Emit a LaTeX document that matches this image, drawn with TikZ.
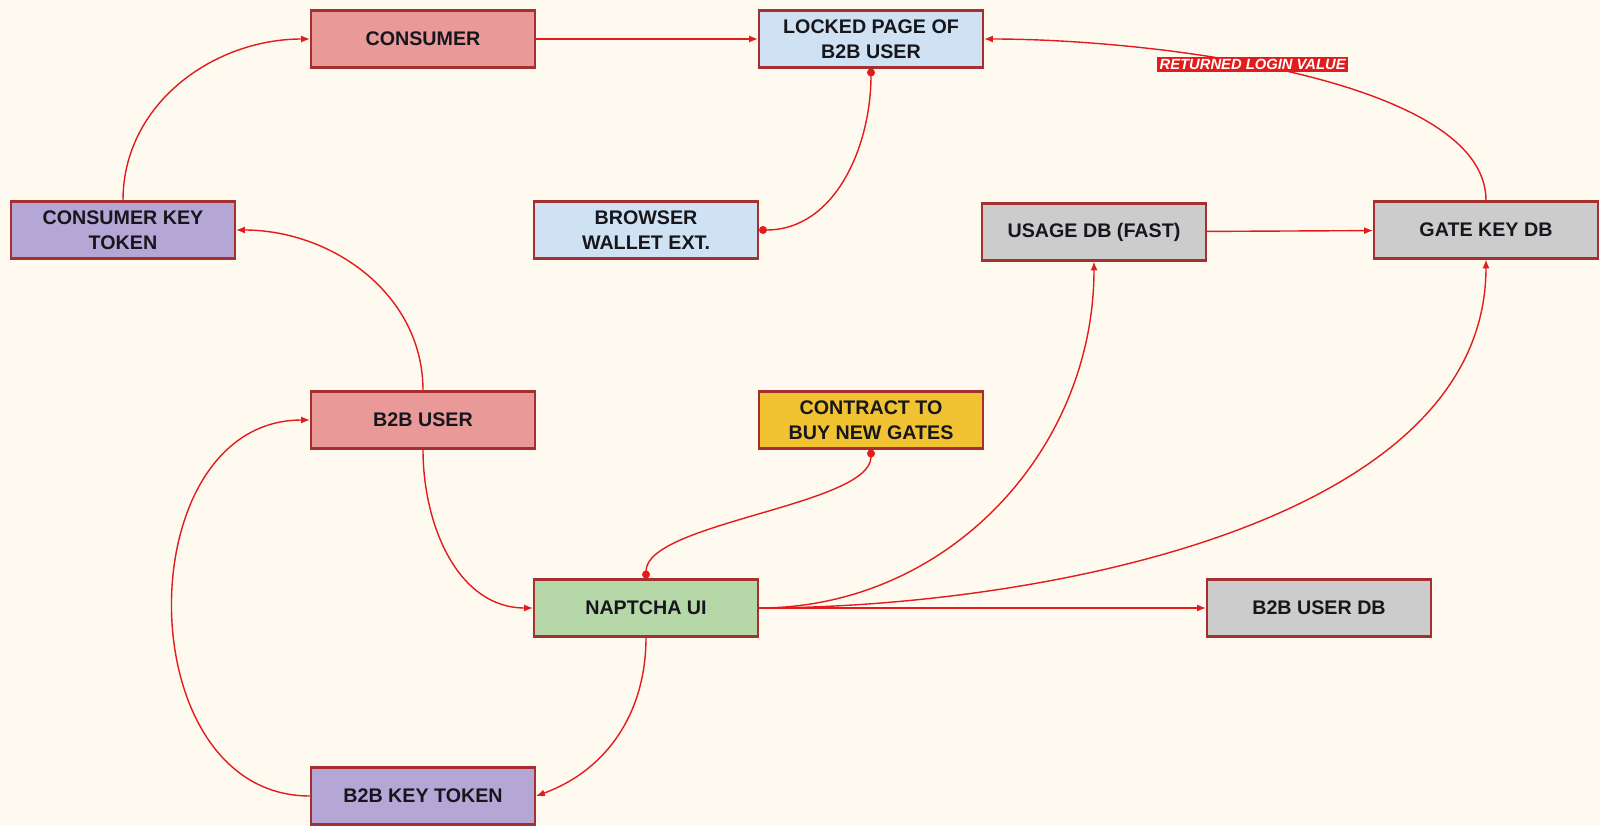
\documentclass[tikz,border=0pt]{standalone}
\usepackage{fontspec}
\setmainfont{Liberation Sans}
\usepackage{tikz}
\usetikzlibrary{arrows.meta, positioning}

\definecolor{bgcream}{RGB}{255,250,240}
\definecolor{boxborder}{RGB}{166,48,48}
\definecolor{linkred}{RGB}{226,28,28}
\definecolor{salmon}{RGB}{234,153,153}
\definecolor{paleblue}{RGB}{207,226,243}
\definecolor{lavender}{RGB}{180,167,214}
\definecolor{dbgrey}{RGB}{204,204,204}
\definecolor{gold}{RGB}{241,194,50}
\definecolor{sage}{RGB}{182,215,168}
\definecolor{inkdark}{RGB}{22,22,28}

\begin{document}
\begin{tikzpicture}[
        box/.style={rectangle, draw=boxborder, line width=1.2pt,
                    minimum width=4.48cm, minimum height=1.14cm, inner sep=0pt,
                    align=center, text=inkdark,
                    font=\fontsize{11.2}{14}\selectfont\bfseries},
        arr/.style={-{Latex[length=5pt,width=4pt]}, draw=linkred, line width=0.8pt},
        dots/.style={{Circle[length=4.5pt]}-{Circle[length=4.5pt]}, draw=linkred, line width=0.8pt},
        tag/.style={fill=linkred, text=white, inner sep=1.3pt,
                    font=\fontsize{8.4}{9}\selectfont\bfseries\itshape}
    ]
    \path[use as bounding box, fill=bgcream] (0,0) rectangle (32,16.5);

    \node[box, fill=salmon]   (consumer) at (8.46, 15.72) {CONSUMER};
    \node[box, fill=paleblue] (locked)   at (17.42,15.72) {LOCKED PAGE OF\\B2B USER};
    \node[box, fill=lavender] (ckt)      at (2.46, 11.90) {CONSUMER KEY\\TOKEN};
    \node[box, fill=paleblue] (wallet)   at (12.92,11.90) {BROWSER\\WALLET EXT.};
    \node[box, fill=dbgrey]   (usage)    at (21.88,11.86) {USAGE DB (FAST)};
    \node[box, fill=dbgrey]   (gatekey)  at (29.72,11.90) {GATE KEY DB};
    \node[box, fill=salmon]   (b2b)      at (8.46, 8.10)  {B2B USER};
    \node[box, fill=gold]     (contract) at (17.42,8.10)  {CONTRACT TO\\BUY NEW GATES};
    \node[box, fill=sage]     (naptcha)  at (12.92,4.34)  {NAPTCHA UI};
    \node[box, fill=dbgrey]   (b2bdb)    at (26.38,4.34)  {B2B USER DB};
    \node[box, fill=lavender] (bkt)      at (8.46, 0.58)  {B2B KEY TOKEN};

    \draw[arr] (consumer) -- (locked);
    \draw[arr] (ckt.north) to[out=90, in=180] (consumer.west);
    \draw[arr] (b2b.north) to[out=90, in=0] (ckt.east);
    \draw[dots] (locked.south) to[out=270, in=0] (wallet.east);
    \draw[arr] (gatekey.north) .. controls +(0,2.44) and +(3.34,0) ..
        node[tag, pos=0.57] (retval) {RETURNED LOGIN VALUE} (locked.east);
    \draw[arr] (usage) -- (gatekey);
    \draw[arr] (b2b.south) to[out=270, in=180] (naptcha.west);
    \draw[arr] (bkt.west) to[out=180, in=180, looseness=1.25] (b2b.west);
    \draw[arr] (naptcha.south) to[out=270, in=20] (bkt.east);
    \draw[dots] (contract.south) to[out=270, in=90, looseness=0.55] (naptcha.north);
    \draw[arr] (naptcha.east) to[out=0, in=270] (usage.south);
    \draw[arr] (naptcha.east) to[out=0, in=270, looseness=0.85] (gatekey.south);
    \draw[arr] (naptcha) -- (b2bdb);
\end{tikzpicture}
\end{document}
